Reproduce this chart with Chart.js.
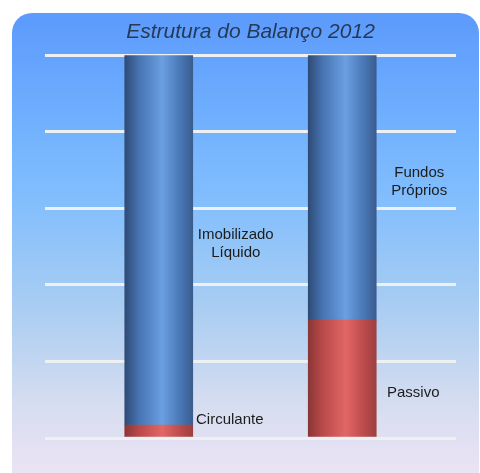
<!DOCTYPE html>
<html>
<head>
<meta charset="utf-8">
<script src="https://cdn.jsdelivr.net/npm/chart.js@4"></script>
<style>
  html, body { margin: 0; padding: 0; background: #fff; overflow: hidden; }
  #panel {
    position: absolute; left: 12px; top: 13px; width: 467px; height: 490px;
    border-radius: 20px;
    background: linear-gradient(to bottom, #5c9afc 0%, #6eaefe 20%, #82befd 38%, #a9cdf2 60%, #d6ddf0 80%, #f4e6f6 100%);
  }
  #wrap { position: absolute; left: 0; top: 0; width: 480px; height: 473px; }
</style>
</head>
<body>
<div id="panel"></div>
<div id="wrap"><canvas id="chartBalanco"></canvas></div>
<script>
const categorias = ['Ativo', 'Passivo'];
const valoresBase = [3.4, 30.8];      // Circulante, Passivo
const valoresTopo = [96.6, 69.2];     // Imobilizado Líquido, Fundos Próprios
const rotulosBase = [['Circulante'], ['Passivo']];
const rotulosTopo = [['Imobilizado', 'Líquido'], ['Fundos', 'Próprios']];
const titulo = 'Estrutura do Balanço 2012';

const fonte = "'Liberation Sans', Arial, Helvetica, sans-serif";

// gradiente "cilindro" para cada barra
function cilindro(cores) {
  return (c) => {
    const chart = c.chart;
    if (!chart.chartArea) return cores[2];
    const x = chart.scales.x.getPixelForValue(c.dataIndex);
    const g = chart.ctx.createLinearGradient(x - 34, 0, x + 34, 0);
    g.addColorStop(0, cores[0]);
    g.addColorStop(0.2, cores[1]);
    g.addColorStop(0.55, cores[2]);
    g.addColorStop(0.85, cores[1]);
    g.addColorStop(1, cores[3]);
    return g;
  };
}

// deslocamento vertical dos rótulos (px)
const ajusteY = [[-11, 15], [4, -6]];

const rotulosPlugin = {
  id: 'rotulos',
  afterDatasetsDraw(chart) {
    const ctx = chart.ctx;
    const todos = [rotulosBase, rotulosTopo];
    ctx.save();
    ctx.font = '15px ' + fonte;
    ctx.fillStyle = '#1c1c1c';
    ctx.textAlign = 'center';
    ctx.textBaseline = 'middle';
    chart.data.datasets.forEach((ds, d) => {
      chart.getDatasetMeta(d).data.forEach((bar, i) => {
        const linhas = todos[d][i];
        const meio = (bar.y + bar.base) / 2 + ajusteY[d][i];
        const x = bar.x + (linhas.length > 1 ? 77 : 71);
        linhas.forEach((t, k) => {
          ctx.fillText(t, x, meio + (k - (linhas.length - 1) / 2) * 18);
        });
      });
    });
    ctx.restore();
  }
};

new Chart(document.getElementById('chartBalanco'), {
  type: 'bar',
  data: {
    labels: categorias.map((_, i) => i),
    datasets: [
      {
        label: 'Base',
        data: valoresBase,
        backgroundColor: cilindro(['#8a3636', '#b84848', '#e26666', '#9c4040']),
        barThickness: 68,
        borderWidth: 0
      },
      {
        label: 'Topo',
        data: valoresTopo,
        backgroundColor: cilindro(['#2e4b76', '#4672b0', '#6a9fe2', '#3b5d8e']),
        barThickness: 68,
        borderWidth: 0
      }
    ]
  },
  options: {
    responsive: true,
    maintainAspectRatio: false,
    animation: false,
    layout: { padding: { left: 45, right: 24, top: 0, bottom: 35 } },
    scales: {
      x: {
        type: 'linear',
        stacked: true,
        offset: false,
        min: -0.62,
        max: 1.62,
        display: false
      },
      y: {
        stacked: true,
        min: 0,
        max: 100,
        ticks: { display: false, stepSize: 20 },
        border: { display: false },
        grid: { color: '#eff0f2', lineWidth: 3, drawTicks: false }
      }
    },
    plugins: {
      legend: { display: false },
      tooltip: { enabled: false },
      title: {
        display: true,
        text: titulo,
        color: '#263a58',
        font: { family: fonte, size: 21, style: 'italic', weight: 'normal' },
        padding: { top: 20, bottom: 10 }
      }
    }
  },
  plugins: [rotulosPlugin]
});
</script>
</body>
</html>
